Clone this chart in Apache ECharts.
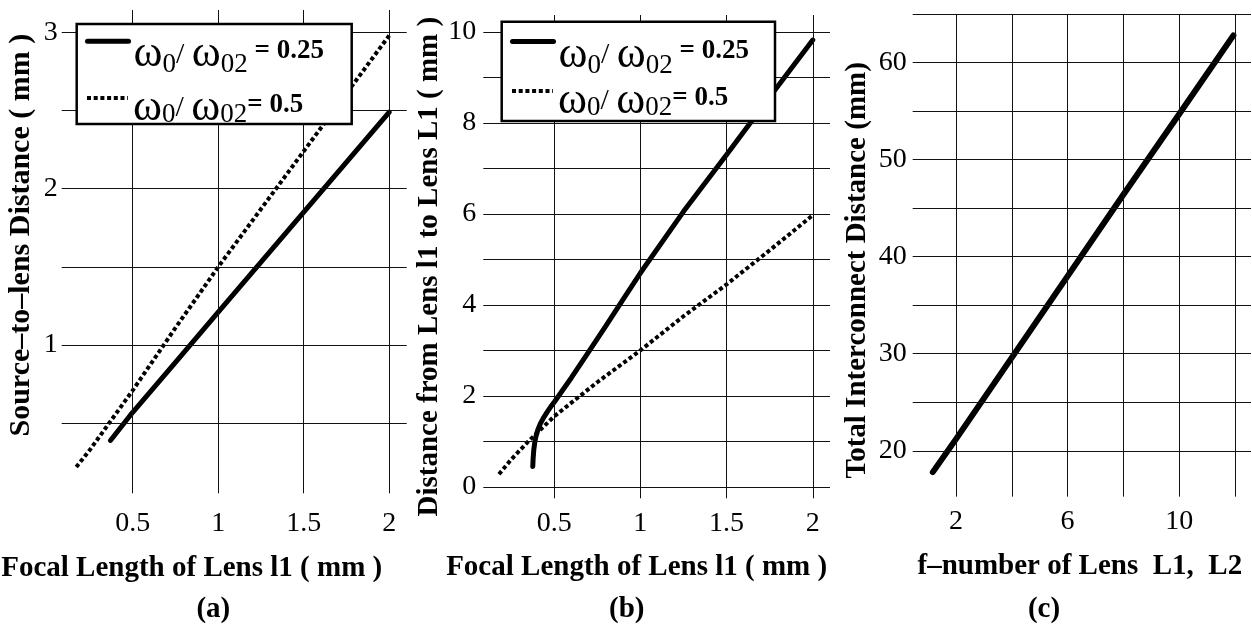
<!DOCTYPE html>
<html><head><meta charset="utf-8">
<script src="https://cdn.jsdelivr.net/npm/echarts@6/dist/echarts.min.js"></script>
<style>html,body{margin:0;padding:0;background:#fff}#c{width:1252px;height:627px}</style>
</head><body><div id="c"></div>
<script>
// ---------- data ----------
const seriesNames = ['ω0/ ω02 = 0.25', 'ω0/ ω02= 0.5'];

// panel (a): Source-to-lens distance vs focal length of lens l1
const aSolidX = [0.37, 0.5, 0.75, 1.0, 1.25, 1.5, 1.75, 2.0];
const aSolidY = [0.39, 0.57, 0.89, 1.21, 1.53, 1.85, 2.17, 2.49];
const aDotX = [0.17, 0.25, 0.5, 0.75, 1.0, 1.25, 1.5, 1.75, 2.0];
const aDotY = [0.22, 0.33, 0.71, 1.11, 1.5, 1.87, 2.24, 2.61, 2.98];
const aXLabels = [0.5, 1, 1.5, 2];
const aXGrid = [0.5, 1, 1.5, 2];
const aYLabels = [1, 2, 3];
const aYGrid = [0.5, 1, 1.5, 2, 2.5, 3];

// panel (b): distance from lens l1 to lens L1 vs focal length of lens l1
const bSolidX = [0.376, 0.378, 0.382, 0.388, 0.395, 0.405, 0.42, 0.44, 0.46, 0.48, 0.5, 0.55, 0.6, 0.7, 0.8, 0.9, 1.0, 1.25, 1.5, 1.75, 2.0];
const bSolidY = [0.45, 0.62, 0.82, 0.99, 1.12, 1.25, 1.39, 1.53, 1.65, 1.76, 1.86, 2.13, 2.4, 2.97, 3.54, 4.12, 4.7, 6.05, 7.3, 8.57, 9.82];
const bDotX = [0.18, 0.25, 0.35, 0.5, 0.75, 1.0, 1.25, 1.5, 1.75, 2.0];
const bDotY = [0.28, 0.6, 1.0, 1.55, 2.3, 3.0, 3.75, 4.45, 5.2, 5.97];
const bXLabels = [0.5, 1, 1.5, 2];
const bXGrid = [0.5, 1, 1.5, 2];
const bYLabels = [0, 2, 4, 6, 8, 10];
const bYGrid = [0, 1, 2, 3, 4, 5, 6, 7, 8, 9, 10];

// panel (c): total interconnect distance vs f-number
const cX = [1.17, 2, 4, 6, 8, 10, 11.94];
const cY = [17.8, 21.2, 29.6, 38.0, 46.4, 54.7, 62.8];
const cXLabels = [2, 6, 10];
const cXGrid = [2, 4, 6, 8, 10, 12];
const cYLabels = [20, 30, 40, 50, 60];
const cYGrid = [20, 25, 30, 35, 40, 45, 50, 55, 60, 65];

const captions = ['(a)', '(b)', '(c)'];

// ---------- styling helpers ----------
const SERIF = 'Liberation Serif';
const zip = (xs, ys) => xs.map((x, i) => [x, ys[i]]);

function gridMarks(xg, yg) {
  return {
    silent: true, animation: false,
    symbol: ['none', 'none'],
    label: { show: false },
    emphasis: { disabled: true },
    lineStyle: { color: '#111', width: 1, type: 'solid' },
    data: xg.map(v => ({ xAxis: v })).concat(yg.map(v => ({ yAxis: v })))
  };
}

function xAxisCfg(i, min, max, labels, name, margin, gap, padRight) {
  return {
    type: 'value', gridIndex: i, min: min, max: max,
    axisLine: { show: false }, axisTick: { show: false }, splitLine: { show: false },
    axisLabel: { customValues: labels, fontFamily: SERIF, fontSize: 28, color: '#000', margin: margin },
    name: name, nameLocation: 'middle', nameGap: gap,
    nameTextStyle: { fontFamily: SERIF, fontWeight: 'bold', fontSize: 29, color: '#000', padding: [0, padRight, 0, 0] }
  };
}
function yAxisCfg(i, min, max, labels, name, margin, gap, pad, fs) {
  return {
    type: 'value', gridIndex: i, min: min, max: max,
    axisLine: { show: false }, axisTick: { show: false }, splitLine: { show: false },
    axisLabel: { customValues: labels, fontFamily: SERIF, fontSize: 28, color: '#000', margin: margin },
    name: name, nameLocation: 'middle', nameGap: gap,
    nameTextStyle: { fontFamily: SERIF, fontWeight: 'bold', fontSize: fs, color: '#000', padding: pad }
  };
}

// token shifts (px, downward) for a legend row: [omega, subscript, value]
function legendRich(sh) {
  const mk = (fs, shift, extra) => Object.assign({
    fontFamily: SERIF, color: '#000', fontSize: fs, height: 14, lineHeight: 14,
    padding: [shift, 0, -shift, 0]
  }, extra || {});
  return {
    w: mk(44, sh[0]), s: mk(27, sh[1]), n: mk(30, sh[0]),
    v: mk(27, sh[2], { fontWeight: 'bold' })
  };
}
function legendFormatter(name) {
  if (name === seriesNames[0]) return '{w|ω}{s|0}{n|/ }{w|ω}{s|02}{v| = 0.25}';
  return '{w|ω}{s|0}{n|/ }{w|ω}{s|02}{v|= 0.5}';
}
// one legend per row so every row sits exactly where it is in the figure
function legendRow(name, left, top, shifts) {
  return {
    data: [name], orient: 'vertical', left: left, top: top,
    padding: 0, itemWidth: 41, itemHeight: 14,
    selectedMode: false, formatter: legendFormatter,
    itemStyle: { color: 'transparent', borderColor: 'transparent', borderWidth: 0, opacity: 0 },
    lineStyle: { width: 'inherit' },
    textStyle: { rich: legendRich(shifts), color: '#000' }, z: 10
  };
}
function legendBox(x, y, w, h) {
  return { type: 'rect', z: 8, silent: true, shape: { x: x, y: y, width: w, height: h },
    style: { fill: '#fff', stroke: '#000', lineWidth: 2.5 } };
}

const solidStyle = (w) => ({ color: '#000', width: w, type: 'solid', cap: 'round' });
const dotStyle = { color: '#000', width: 4, type: [4, 2.7], cap: 'butt' };

const row1Shift = [13.5, 24, 9.5];
const row2Shift = [10, 17, 7];

const option = {
  backgroundColor: '#fff',
  animation: false,
  grid: [
    { left: 61.7, top: 10, width: 345, height: 483.3, containLabel: false, outerBoundsMode: 'none' },
    { left: 483.3, top: 15, width: 346.7, height: 483.3, containLabel: false, outerBoundsMode: 'none' },
    { left: 912.7, top: 14, width: 338.3, height: 482.7, containLabel: false, outerBoundsMode: 'none' }
  ],
  xAxis: [
    xAxisCfg(0, 0.085, 2.102, aXLabels, 'Focal Length of Lens l1 ( mm )', 16, 60.5, 85),
    xAxisCfg(1, 0.089, 2.1, bXLabels, 'Focal Length of Lens l1 ( mm )', 11, 55, 40),
    xAxisCfg(2, 0.45, 12.57, cXLabels, 'f\u2013number of Lens  L1,  L2', 11, 55.5, 4)
  ],
  yAxis: [
    yAxisCfg(0, 0.052, 3.143, aYLabels, 'Source\u2013to\u2013lens Distance ( mm )', 4, 25, [0, 0, 0, 33], 30),
    yAxisCfg(1, -0.25, 10.37, bYLabels, 'Distance from Lens l1 to Lens L1 ( mm )', 7, 37, [0, 20, 0, 0], 29),
    yAxisCfg(2, 15.27, 65, cYLabels, 'Total Interconnect Distance (mm)', 6, 41, [0, 30, 0, 0], 29)
  ],
  legend: [
    legendRow(seriesNames[0], 85, 32.7, row1Shift),
    legendRow(seriesNames[1], 85, 86, row2Shift),
    legendRow(seriesNames[0], 510, 33, row1Shift),
    legendRow(seriesNames[1], 510, 79, row2Shift)
  ],
  series: [
    { type: 'line', name: seriesNames[0], xAxisIndex: 0, yAxisIndex: 0, data: zip(aSolidX, aSolidY),
      showSymbol: false, symbol: 'none', lineStyle: solidStyle(5), silent: true, z: 3,
      markLine: gridMarks(aXGrid, aYGrid) },
    { type: 'line', name: seriesNames[1], xAxisIndex: 0, yAxisIndex: 0, data: zip(aDotX, aDotY),
      showSymbol: false, symbol: 'none', lineStyle: dotStyle, silent: true, z: 3 },
    { type: 'line', name: seriesNames[0], xAxisIndex: 1, yAxisIndex: 1, data: zip(bSolidX, bSolidY),
      showSymbol: false, symbol: 'none', lineStyle: solidStyle(5), silent: true, z: 3,
      markLine: gridMarks(bXGrid, bYGrid) },
    { type: 'line', name: seriesNames[1], xAxisIndex: 1, yAxisIndex: 1, data: zip(bDotX, bDotY),
      showSymbol: false, symbol: 'none', lineStyle: dotStyle, silent: true, z: 3 },
    { type: 'line', name: 'Total Interconnect Distance', xAxisIndex: 2, yAxisIndex: 2, data: zip(cX, cY),
      showSymbol: false, symbol: 'none', lineStyle: solidStyle(6), silent: true, z: 3,
      markLine: gridMarks(cXGrid, cYGrid) }
  ],
  graphic: [
    legendBox(76.7, 24, 275, 100),
    legendBox(501.7, 21.7, 273.3, 99.3),
    { type: 'text', x: 213.3, y: 610, style: { text: captions[0], font: 'bold 29px "Liberation Serif"', fill: '#000', align: 'center', verticalAlign: 'middle' } },
    { type: 'text', x: 626.7, y: 610, style: { text: captions[1], font: 'bold 29px "Liberation Serif"', fill: '#000', align: 'center', verticalAlign: 'middle' } },
    { type: 'text', x: 1044, y: 610, style: { text: captions[2], font: 'bold 29px "Liberation Serif"', fill: '#000', align: 'center', verticalAlign: 'middle' } }
  ]
};

const chart = echarts.init(document.getElementById('c'), null, { renderer: 'canvas' });
chart.setOption(option);
</script>
</body></html>
